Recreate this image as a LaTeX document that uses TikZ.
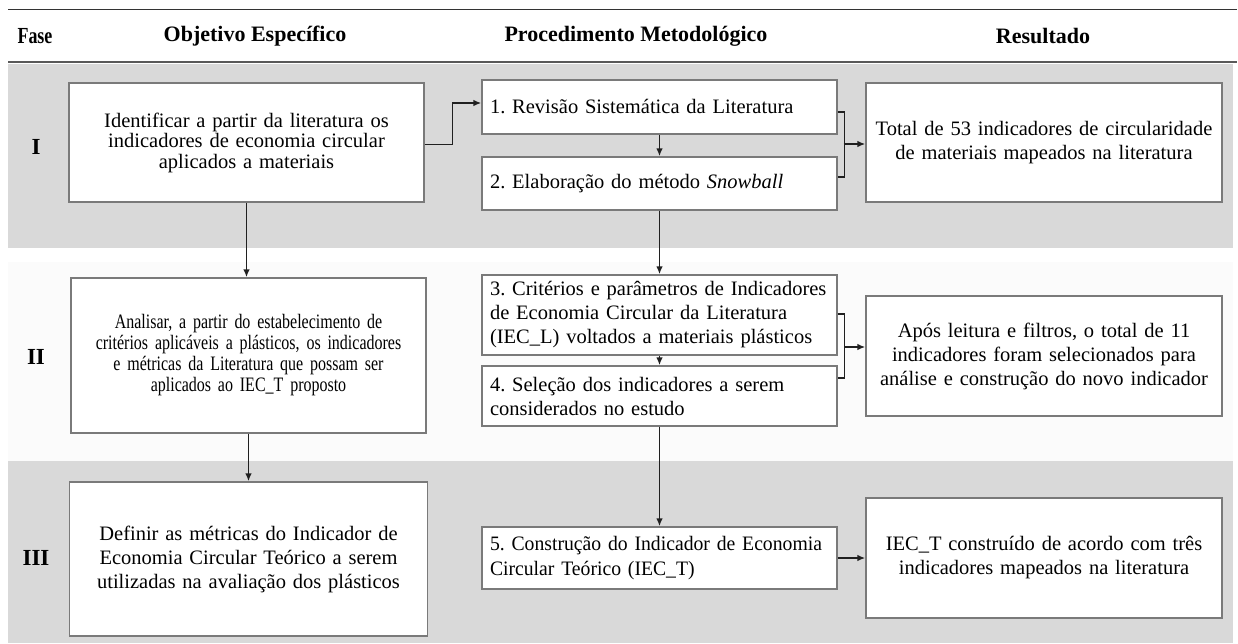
\documentclass[tikz,border=0pt]{standalone}
\usepackage{fontspec}
\setmainfont{Liberation Serif}
\newfontfamily\narrowserif[FakeStretch=0.78]{Liberation Serif}
\newfontfamily\tightserif[FakeStretch=0.96]{Liberation Serif}
\usepackage{xcolor}
\usetikzlibrary{arrows.meta,positioning}

\definecolor{bandgrey}{HTML}{D9D9D9}
\definecolor{bandlight}{HTML}{FBFBFB}
\definecolor{boxline}{HTML}{7A7A7A}
\definecolor{arrowline}{HTML}{202020}

\frenchspacing
\hyphenpenalty=10000

\tikzset{
  cellbox/.style={draw=boxline, line width=1.3pt, fill=white, inner xsep=4pt, inner ysep=0pt,
    align=center, font=\fontsize{20.5}{24}\selectfont},
  stepbox/.style={cellbox, align=left, inner xsep=8pt},
  arr/.style={draw=arrowline, line width=1.6pt, -{Latex[length=8pt,width=6.5pt]}},
  brk/.style={draw=arrowline, line width=1.5pt},
  head/.style={font=\bfseries\fontsize{22}{26}\selectfont},
  fase/.style={font=\bfseries\fontsize{23}{26}\selectfont},
}

\begin{document}
\begin{tikzpicture}[x=1pt,y=-1pt]
    \useasboundingbox (0,0) rectangle (1238,643);

    % bands
    \fill[bandgrey] (8,64) rectangle (1233,248);
    \fill[bandlight] (8,262) rectangle (1233,461);
    \fill[bandgrey] (8,461) rectangle (1233,643);

    % header
    \draw[line width=1.4pt, color=black!80] (8,9.5) -- (1237,9.5);
    \draw[line width=1.2pt, color=black!65] (8,62) -- (1237,62);
    \node[head, font=\narrowserif\bfseries\fontsize{23}{26}\selectfont] (hfase) at (35,36) {Fase};
    \node[head] (hobj) at (255,36) {Objetivo Específico};
    \node[head] (hproc) at (636,36) {Procedimento Metodológico};
    \node[head] (hres) at (1043,36) {Resultado};

    \node[fase] (ph1) at (36,147) {I};
    \node[fase] (ph2) at (36,357) {II};
    \node[fase] (ph3) at (36,558) {III};

    % phase I
    \node[cellbox, text width=347pt, minimum height=119pt, font=\fontsize{20.5}{20.5}\selectfont] (ident) at (246.5,142.5)
      {Identificar a partir da literatura os\\indicadores de economia circular\\aplicados a materiais};
    \node[stepbox, text width=339pt, minimum height=54pt] (rsl) at (659.5,107) {1. Revisão Sistemática da Literatura};
    \node[stepbox, text width=339pt, minimum height=53pt] (snow) at (659.5,183.5) {2. Elaboração do método \textit{Snowball}};
    \node[cellbox, text width=348pt, minimum height=119pt] (res1) at (1044,142.5)
      {Total de 53 indicadores de circularidade\\de materiais mapeados na literatura};

    % phase II
    \node[cellbox, text width=347pt, minimum height=155pt, font=\narrowserif\fontsize{20.5}{21}\selectfont] (anal) at (248.5,355.5)
      {Analisar, a partir do estabelecimento de\\critérios aplicáveis a plásticos, os indicadores\\e métricas da Literatura que possam ser\\aplicados ao IEC\_T proposto};
    \node[stepbox, text width=339pt, minimum height=80pt] (crit) at (659.5,315)
      {3. Critérios e parâmetros de Indicadores\\de Economia Circular da Literatura\\(IEC\_L) voltados a materiais plásticos};
    \node[stepbox, text width=339pt, minimum height=60pt] (sel) at (659.5,396)
      {4. Seleção dos indicadores a serem\\considerados no estudo};
    \node[cellbox, text width=348pt, minimum height=120pt] (res2) at (1044,356)
      {Após leitura e filtros, o total de 11\\indicadores foram selecionados para\\análise e construção do novo indicador};

    % phase III
    \node[cellbox, text width=350pt, minimum height=154pt] (def) at (248.5,559)
      {Definir as métricas do Indicador de\\Economia Circular Teórico a serem\\utilizadas na avaliação dos plásticos};
    \node[stepbox, text width=339pt, minimum height=62pt, font=\tightserif\fontsize{20.5}{25}\selectfont] (cons) at (659.5,558)
      {5. Construção do Indicador de Economia\\Circular Teórico (IEC\_T)};
    \node[cellbox, text width=348pt, minimum height=120pt] (res3) at (1044,558)
      {IEC\_T construído de acordo com três\\indicadores mapeados na literatura};

    % links phase I
    \draw[arr] ([yshift=-2pt]ident.east) -- ++(28,0) |- ([yshift=4pt]rsl.west);
    \draw[arr] (rsl.south) -- (snow.north);
    \draw[brk] ([yshift=-5pt]rsl.east) -- ++(7,0) |- ([yshift=6.5pt]snow.east);
    \coordinate (join1) at (843.5,144);
    \draw[arr] (join1) -- (join1 -| res1.west);
    \draw[arr] (ident.south) -- (ident.south |- anal.north);

    % links phase II
    \draw[arr] (snow.south) -- (crit.north);
    \draw[arr] (crit.south) -- (sel.north);
    \draw[brk] ([yshift=1pt]crit.east) -- ++(7,0) |- ([yshift=18pt]sel.east);
    \coordinate (join2) at (844,347);
    \draw[arr] (join2) -- (join2 -| res2.west);
    \draw[arr] (anal.south) -- (anal.south |- def.north);

    % links phase III
    \draw[arr] (sel.south) -- (cons.north);
    \draw[arr] (cons.east) -- (cons.east -| res3.west);
\end{tikzpicture}
\end{document}
